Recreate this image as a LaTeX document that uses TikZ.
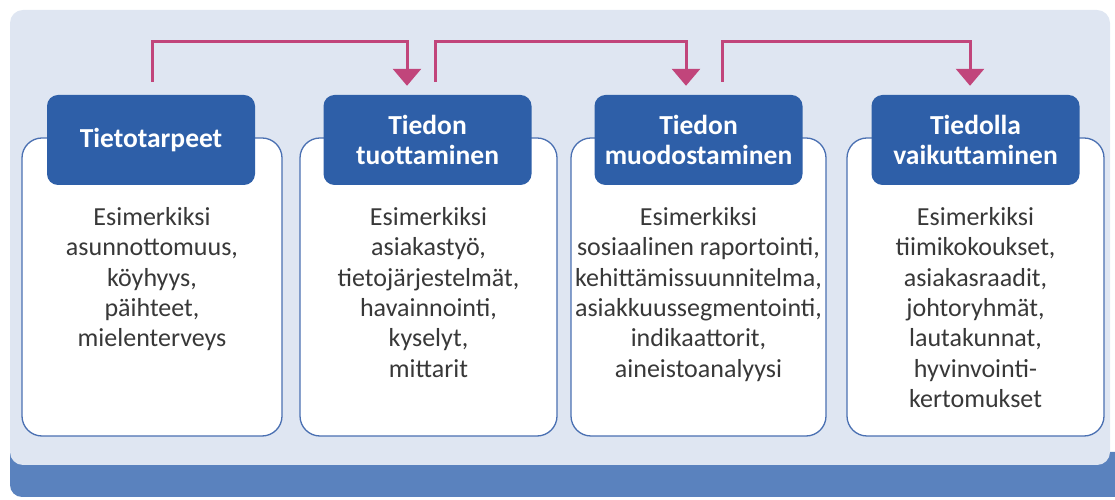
\documentclass[tikz,border=0pt]{standalone}
\usepackage{fontspec}
\setmainfont{Carlito}
\usetikzlibrary{arrows.meta}
\definecolor{panelbg}{HTML}{DFE6F2}
\definecolor{bandblue}{HTML}{5A82BE}
\definecolor{headblue}{HTML}{2E5FA8}
\definecolor{boxline}{HTML}{4A70B2}
\definecolor{flowpink}{HTML}{C1457B}
\definecolor{bodytext}{HTML}{383838}
\begin{document}
\begin{tikzpicture}[x=1pt,y=1pt,
    card/.style={draw=boxline,line width=1.3pt,fill=white,rounded corners=20pt,
      minimum height=298pt,inner sep=0pt},
    head/.style={fill=headblue,rounded corners=11pt,minimum width=208pt,
      minimum height=90pt,inner sep=0pt,text=white,align=center,
      font=\fontsize{27.5}{30}\selectfont\bfseries},
    body/.style={anchor=north,inner sep=0pt,align=center,text=bodytext,
      font=\fontsize{26}{30.4}\selectfont},
    flow/.style={draw=flowpink,line width=3pt,
      -{Triangle[width=28pt,length=17pt]}}]
    \useasboundingbox (0,0) rectangle (1115,500);
    \fill[bandblue] (1115,48) -- (10,48) [rounded corners=12pt] -- (10,3)
      [sharp corners] -- (1115,3) -- cycle;
    \fill[panelbg,rounded corners=13pt] (10,35) rectangle (1110,490);
    \node[card,minimum width=260pt] (box1) at (152,213) {};
    \node[card,minimum width=257pt] (box2) at (428.5,213) {};
    \node[card,minimum width=255pt] (box3) at (698.5,213) {};
    \node[card,minimum width=257pt] (box4) at (975.5,213) {};
    \node[head] (h1) at (151,360) {Tietotarpeet};
    \node[head] (h2) at (427.5,360) {Tiedon\\tuottaminen};
    \node[head] (h3) at (698.5,360) {Tiedon\\muodostaminen};
    \node[head] (h4) at (975.5,360) {Tiedolla\\vaikuttaminen};
    \node[body] (t1) at (152,293) {Esimerkiksi\\asunnottomuus,\\köyhyys,\\päihteet,\\mielenterveys};
    \node[body] (t2) at (428.5,293) {Esimerkiksi\\asiakastyö,\\tietojärjestelmät,\\havainnointi,\\kyselyt,\\mittarit};
    \node[body] (t3) at (698.5,293) {Esimerkiksi\\sosiaalinen raportointi,\\kehittämissuunnitelma,\\asiakkuussegmentointi,\\indikaattorit,\\aineistoanalyysi};
    \node[body] (t4) at (975.5,293) {Esimerkiksi\\tiimikokoukset,\\asiakasraadit,\\johtoryhmät,\\lautakunnat,\\hyvinvointi-\\kertomukset};
    \draw[flow] ([xshift=1pt,yshift=13pt]h1.north) -- ++(0,40)
      -| ([xshift=-20.5pt,yshift=9pt]h2.north);
    \draw[flow] ([xshift=7.5pt,yshift=13pt]h2.north) -- ++(0,40)
      -| ([xshift=-12.5pt,yshift=9pt]h3.north);
    \draw[flow] ([xshift=23.5pt,yshift=13pt]h3.north) -- ++(0,40)
      -| ([xshift=-5.5pt,yshift=9pt]h4.north);
\end{tikzpicture}
\end{document}
